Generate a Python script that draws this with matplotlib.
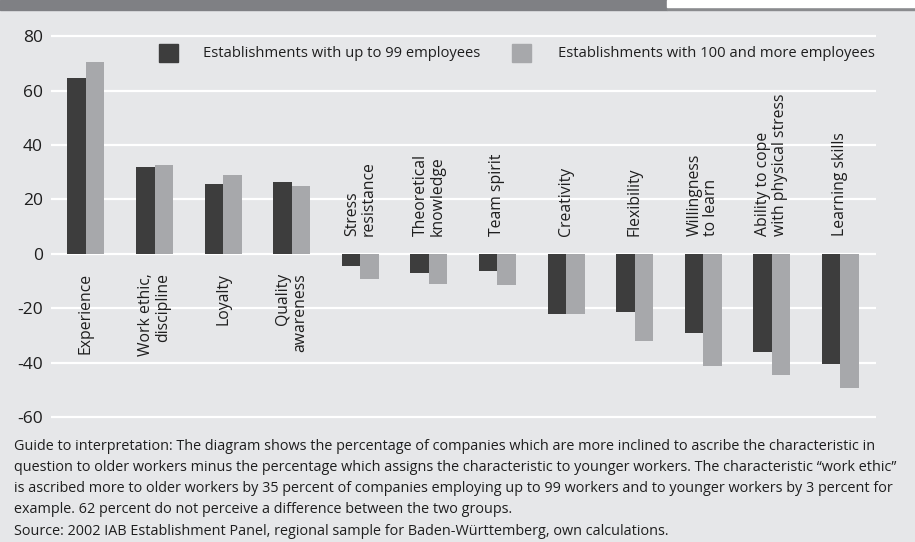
import matplotlib
matplotlib.use('Agg')
from matplotlib import pyplot as plt
from matplotlib import font_manager
from matplotlib.patches import Rectangle
import numpy as np

names = [f.name for f in font_manager.fontManager.ttflist]
main_font = 'Open Sans' if 'Open Sans' in names else 'DejaVu Sans'

characteristics = ['Experience', 'Work ethic,\ndiscipline', 'Loyalty', 'Quality\nawareness',
                   'Stress\nresistance', 'Theoretical\nknowledge', 'Team spirit', 'Creativity',
                   'Flexibility', 'Willingness\nto learn', 'Ability to cope\nwith physical stress',
                   'Learning skills']
small_firms = [64.7, 32.0, 25.8, 26.5, -4.5, -6.9, -6.4, -22.2, -21.4, -29.1, -36.1, -40.5]
large_firms = [70.6, 32.8, 29.1, 25.1, -9.4, -11.2, -11.5, -22.2, -32.1, -41.2, -44.6, -49.3]
y_ticks = [-60, -40, -20, 0, 20, 40, 60, 80]

bg = '#e6e7e9'
dark = '#3d3d3d'
light = '#a7a8ab'
text_col = '#1e1e1e'

plt.rcParams['font.family'] = main_font

fig = plt.figure(figsize=(9.15, 5.42), dpi=100, facecolor=bg)
ax = fig.add_axes([51 / 915, 1 - 420 / 542, 825 / 915, 387 / 542])
ax.set_facecolor(bg)

x = np.arange(len(characteristics))
w = 0.27
ax.bar(x - w / 2, small_firms, w, color=dark, zorder=3)
ax.bar(x + w / 2, large_firms, w, color=light, zorder=3)

for yt in y_ticks:
    ax.axhline(yt, color='white', lw=1.6, zorder=1)

ax.set_xlim(-0.51, 11.52)
ax.set_ylim(-61.1, 81.2)
ax.set_yticks(y_ticks)
ax.set_yticklabels([str(v) for v in y_ticks], fontsize=12.5, color=text_col)
ax.tick_params(axis='y', length=0, pad=6)
ax.set_xticks([])
for s in ax.spines.values():
    s.set_visible(False)

# category names sit on the opposite side of the zero line from the bars
for xi, name, v in zip(x, characteristics, small_firms):
    if v > 0:
        ax.annotate(name, (xi, 0), xytext=(0, -14), textcoords='offset points',
                    rotation=90, ha='center', va='top', multialignment='right',
                    fontsize=11.3, color=text_col, linespacing=1.05)
    else:
        ax.annotate(name, (xi, 0), xytext=(0, 12.5), textcoords='offset points',
                    rotation=90, ha='center', va='bottom', multialignment='left',
                    fontsize=11.3, color=text_col, linespacing=1.05)

# legend drawn by hand: two squares with labels in one row
ax.add_patch(Rectangle((0.131, 0.972), 0.023, -0.047, transform=ax.transAxes,
                       color=dark, clip_on=False, zorder=4))
ax.text(0.184, 0.948, 'Establishments with up to 99 employees', transform=ax.transAxes,
        va='center', ha='left', fontsize=10.6, color=text_col)
ax.add_patch(Rectangle((0.559, 0.972), 0.023, -0.047, transform=ax.transAxes,
                       color=light, clip_on=False, zorder=4))
ax.text(0.614, 0.948, 'Establishments with 100 and more employees', transform=ax.transAxes,
        va='center', ha='left', fontsize=10.6, color=text_col)

# header band
fig.patches.append(Rectangle((0, 1 - 10 / 542), 667 / 915, 10 / 542, transform=fig.transFigure,
                             color='#7f8084', zorder=0))
fig.patches.append(Rectangle((667 / 915, 1 - 10 / 542), 248 / 915, 3 / 542, transform=fig.transFigure,
                             color='#8a8b8e', zorder=0))
fig.patches.append(Rectangle((667 / 915, 1 - 7 / 542), 248 / 915, 7 / 542, transform=fig.transFigure,
                             color='white', zorder=0))

notes = [
    'Guide to interpretation: The diagram shows the percentage of companies which are more inclined to ascribe the characteristic in',
    'question to older workers minus the percentage which assigns the characteristic to younger workers. The characteristic \u201cwork ethic\u201d',
    'is ascribed more to older workers by 35 percent of companies employing up to 99 workers and to younger workers by 3 percent for',
    'example. 62 percent do not perceive a difference between the two groups.',
    'Source: 2002 IAB Establishment Panel, regional sample for Baden-W\u00fcrttemberg, own calculations.',
]
for i, line in enumerate(notes):
    fig.text(14 / 915, 1 - (446 + 21.3 * i) / 542, line, fontsize=10.4,
             color=text_col, va='center', ha='left')

fig.savefig('out.png', dpi=100, facecolor=bg)
